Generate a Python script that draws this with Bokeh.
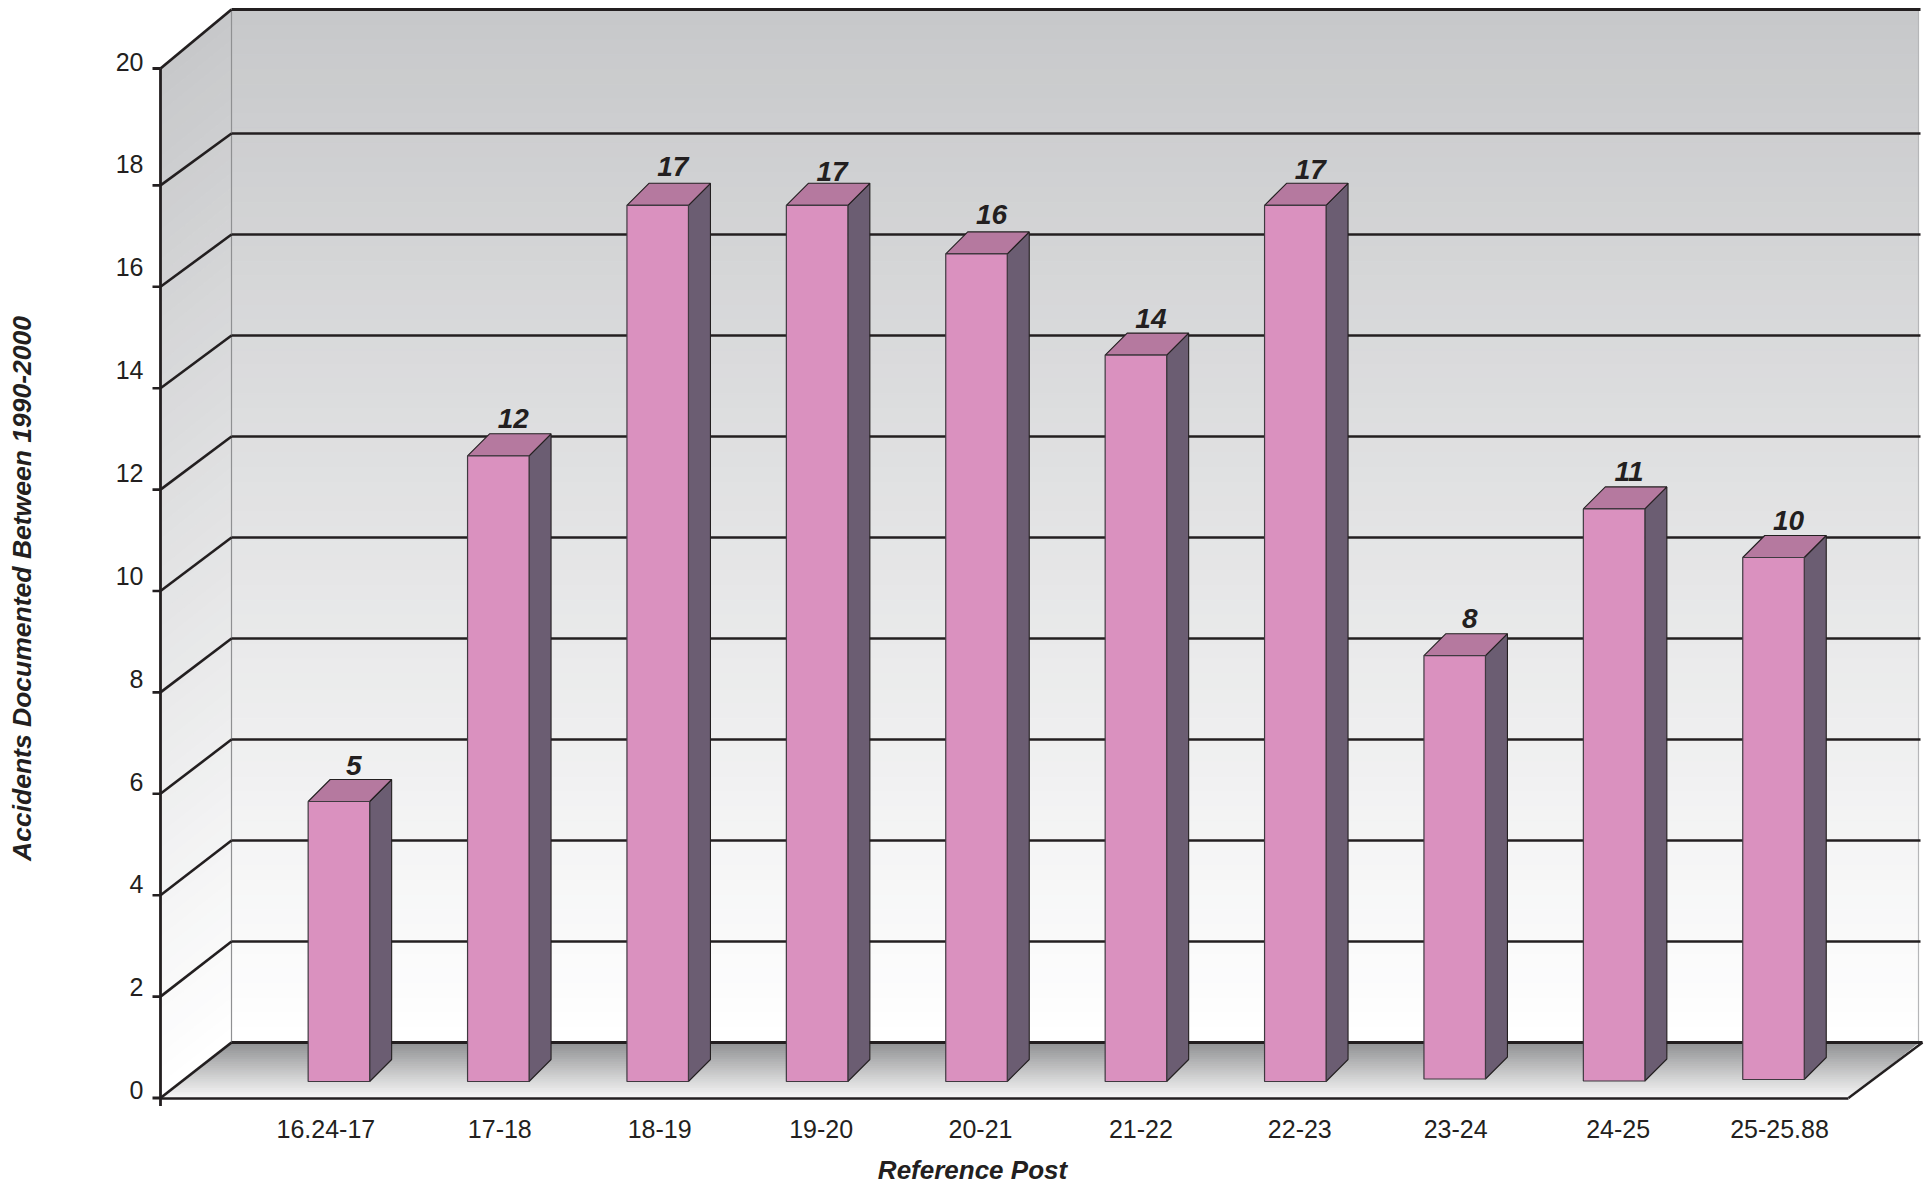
from bokeh.plotting import figure
from bokeh.models import Range1d, LinearAxis, FixedTicker, Label
from bokeh.core.properties import value
from bokeh.embed import file_html
from bokeh.resources import INLINE

categories = ["16.24-17", "17-18", "18-19", "19-20", "20-21", "21-22", "22-23", "23-24", "24-25", "25-25.88"]
accidents = [5, 12, 17, 17, 16, 14, 17, 8, 11, 10]
y_ticks = [0, 2, 4, 6, 8, 10, 12, 14, 16, 18, 20]
grid_levels = [2, 4, 6, 8, 10, 12, 14, 16, 18]

# ---- layout: page pixel coordinates of the drawing ----
W, H = 1928, 1185
BAR0, BAR_STEP, BAR_W, DEPTH = 338.4, 159.4, 61.5, 22.0
Y_ZERO, Y_UNIT = 1048.0, 49.6
bar_base_px = [1081, 1081, 1081, 1081, 1081, 1081, 1081, 1078.5, 1080.5, 1079]
bar_top_nudge = [1, 2.5, 0, 0, -1, 1, 0, 4, 6, 5]
value_label_lift = [1, 2.5, 3.5, -1, 4, 2, 1, 2.5, 2.5, 2.5]
label_nudge = [-13, 1.5, 2, 4, 4, 5, 4.5, 1, 4, 6]

def X(px): return (px - BAR0) / BAR_STEP
def Y(px): return (Y_ZERO - px) / Y_UNIT

LX, WX, WR, FR = 160.0, 231.0, 1918.0, 1848.0
LY0, LY20, WY0, WTOP = 1097.5, 68.0, 1042.0, 10.0
TICK_Y0, TICK_UNIT = 1089.6, 51.43
INK = "#231f20"

p = figure(width=W, height=H, output_backend="svg", toolbar_location=None,
           x_range=Range1d(X(0), X(W)), y_range=Range1d(Y(H), Y(0)),
           min_border=0, min_border_left=0, min_border_right=0, min_border_top=0, min_border_bottom=0,
           x_axis_type=None, y_axis_type=None, outline_line_color=None,
           background_fill_color="white", border_fill_color="white")
p.grid.visible = False
p.extra_y_ranges["ticks"] = Range1d((TICK_Y0 - H) / TICK_UNIT, TICK_Y0 / TICK_UNIT)

def mix(a, b, t):
    return "#%02x%02x%02x" % tuple(round(a[i] + (b[i] - a[i]) * t) for i in range(3))

# gradient bands for wall, left wall, floor
N = 70
top_c, bot_c = (0xc7, 0xc8, 0xca), (0xff, 0xff, 0xff)
xs, ys, cs = [], [], []
for i in range(N):
    t0, t1 = i / N, (i + 1) / N
    c = mix(top_c, bot_c, (t0 + t1) / 2)
    yA0, yA1 = WTOP + (WY0 - WTOP) * t0, WTOP + (WY0 - WTOP) * t1
    yL0, yL1 = LY20 + (LY0 - LY20) * t0, LY20 + (LY0 - LY20) * t1
    xs.append([X(WX), X(WR), X(WR), X(WX)]); ys.append([Y(yA0), Y(yA0), Y(yA1), Y(yA1)]); cs.append(c)
    xs.append([X(LX), X(WX), X(WX), X(LX)]); ys.append([Y(yL0), Y(yA0), Y(yA1), Y(yL1)]); cs.append(c)
fl_top, fl_bot = (0x8e, 0x8f, 0x91), (0xf7, 0xf7, 0xf7)
M = 30
for i in range(M):
    t0, t1 = i / M, (i + 1) / M
    c = mix(fl_top, fl_bot, (t0 + t1) / 2)
    y0, y1 = WY0 + (LY0 - WY0) * t0, WY0 + (LY0 - WY0) * t1
    xl0, xl1 = WX + (LX - WX) * t0, WX + (LX - WX) * t1
    xr0, xr1 = WR + (FR - WR) * t0, WR + (FR - WR) * t1
    xs.append([X(xl0), X(xr0), X(xr1), X(xl1)]); ys.append([Y(y0), Y(y0), Y(y1), Y(y1)]); cs.append(c)
p.patches(xs, ys, fill_color=cs, line_color=cs, line_width=1)

# wall edges
p.segment(X(WX), Y(WTOP), X(WX), Y(WY0), line_color="#8f9092", line_width=1.2)
p.segment(X(WR), Y(WTOP), X(WR), Y(WY0), line_color="#b5b6b8", line_width=1.2)

# gridlines on back wall and left wall, with the tick stubs
WALL_UNIT, LEFT_UNIT = 50.5, 50.7
gx0, gy0, gx1, gy1 = [], [], [], []
for v in grid_levels:
    gx0 += [X(WX), X(LX)]; gy0 += [Y(WY0 - WALL_UNIT * v), Y(LY0 - LEFT_UNIT * v)]
    gx1 += [X(WR + 2), X(WX)]; gy1 += [Y(WY0 - WALL_UNIT * v), Y(WY0 - WALL_UNIT * v)]
    gx0 += [X(LX - 8)]; gy0 += [Y(LY0 - LEFT_UNIT * v)]
    gx1 += [X(LX)]; gy1 += [Y(LY0 - LEFT_UNIT * v)]
p.segment(gx0, gy0, gx1, gy1, line_color=INK, line_width=2.6)

# outline of the box
p.segment([X(LX), X(WX), X(LX), X(WX), X(LX - 8), X(LX - 8), X(LX)],
          [Y(LY20), Y(WTOP - 1), Y(LY0), Y(WY0), Y(LY0), Y(LY20), Y(LY20)],
          [X(WX), X(WR + 2), X(WX), X(WR + 4), X(LX), X(LX), X(LX)],
          [Y(WTOP - 1), Y(WTOP - 1), Y(WY0), Y(WY0), Y(LY0), Y(LY20), Y(LY0 + 8)],
          line_color=INK, line_width=2.8)
p.line([X(WR + 4), X(FR)], [Y(WY0), Y(LY0)], line_color=INK, line_width=2.4)

# bars
for i, v in enumerate(accidents):
    l = i - BAR_W / BAR_STEP / 2
    r = i + BAR_W / BAR_STEP / 2
    d = DEPTH / BAR_STEP
    dy = DEPTH / Y_UNIT
    top = v - bar_top_nudge[i] / Y_UNIT
    base = Y(bar_base_px[i])
    p.patch([r, r + d, r + d, r], [base, base + dy, top + dy, top],
            fill_color="#6b5d72", line_color=INK, line_width=1.1)
    p.patch([l, r, r + d, l + d], [top, top, top + dy, top + dy],
            fill_color="#b5799f", line_color=INK, line_width=1.1)
    p.quad(left=l, right=r, bottom=base, top=top,
           fill_color="#da91bf", line_color="#3f3a40", line_width=1.2)
    p.text([i + 15 / BAR_STEP], [top + (35 + value_label_lift[i]) / Y_UNIT], text=[str(v)],
           text_font=value("Liberation Sans"), text_font_style="bold italic",
           text_font_size="28px", text_align="center", text_baseline="middle", text_color=INK)

# real axes
yax = LinearAxis(y_range_name="ticks", ticker=FixedTicker(ticks=y_ticks),
                 fixed_location=X(LX), major_tick_in=0, major_tick_out=0, minor_tick_in=0, minor_tick_out=0,
                 major_tick_line_color=None, minor_tick_line_color=None, axis_line_color=None,
                 major_label_standoff=17, major_label_text_font="Liberation Sans",
                 major_label_text_font_size="25px", major_label_text_color=INK)
p.add_layout(yax, "left")

tick_pos = [i + label_nudge[i] / BAR_STEP for i in range(len(categories))]
xax = LinearAxis(ticker=FixedTicker(ticks=tick_pos), bounds=(X(LX), X(FR)),
                 fixed_location=Y(LY0), major_tick_in=0, major_tick_out=0, minor_tick_in=0, minor_tick_out=0,
                 major_tick_line_color=None, minor_tick_line_color=None,
                 axis_line_color=INK, axis_line_width=2.6,
                 major_label_standoff=22, major_label_text_font="Liberation Sans",
                 major_label_text_font_size="25px", major_label_text_color=INK,
                 major_label_overrides={t: c for t, c in zip(tick_pos, categories)})
p.add_layout(xax, "below")

p.add_layout(Label(x=972, y=H - 1169, x_units="screen", y_units="screen",
                   text="Reference Post", text_font="Liberation Sans", text_font_style="bold italic",
                   text_font_size="26px", text_align="center", text_baseline="middle", text_color=INK))
p.add_layout(Label(x=21, y=H - 588, x_units="screen", y_units="screen", angle=90, angle_units="deg",
                   text="Accidents Documented Between 1990-2000", text_font="Liberation Sans",
                   text_font_style="bold italic", text_font_size="26.5px", text_align="center",
                   text_baseline="middle", text_color=INK))

open("out.html", "w").write(file_html(p, INLINE))
